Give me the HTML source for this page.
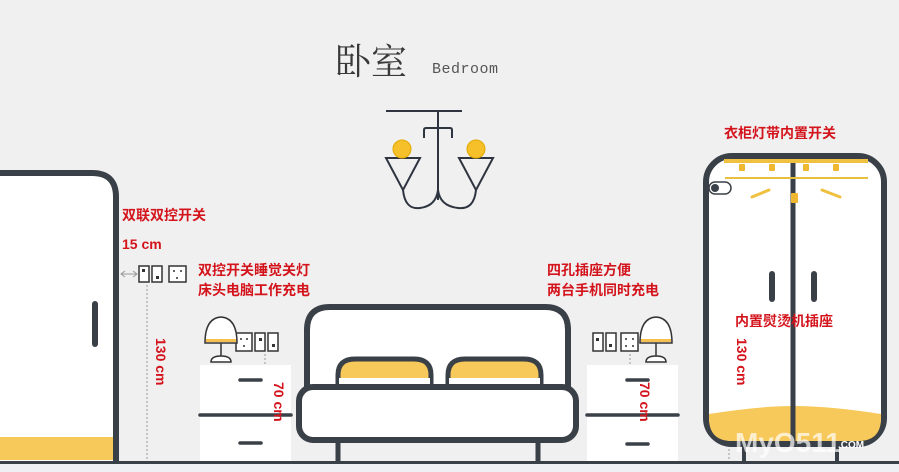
<!DOCTYPE html>
<html><head><meta charset="utf-8"><style>
body{margin:0;background:#f0f0f0;}
svg{display:block}
.r{fill:#d4141c;font-family:"Liberation Sans","Noto Sans CJK SC",sans-serif;font-weight:bold;font-size:14px}
</style></head><body>
<svg width="899" height="472" viewBox="0 0 899 472" xmlns="http://www.w3.org/2000/svg">
<rect width="899" height="472" fill="#f0f0f0"/>
<rect y="464" width="899" height="8" fill="#eef0f4"/>
<!-- title -->
<text x="335" y="74" font-family="'Noto Serif CJK SC','Noto Sans CJK SC',serif" font-size="36" fill="#3a3a3a">卧室</text>
<text x="432" y="73" font-family="'Liberation Mono',monospace" font-size="15" fill="#555" letter-spacing="0.5">Bedroom</text>
<!-- chandelier -->
<g stroke="#2f3540" stroke-width="2" fill="none">
<line x1="386" y1="111" x2="462" y2="111"/>
<line x1="438" y1="111" x2="438" y2="200"/>
<path d="M424 138 V130 Q424 128 426 128 H450 Q452 128 452 130 V138"/>
<path d="M386 158 H420 L403 190 Z"/>
<path d="M459 158 H493 L476 190 Z"/>
<path d="M403 190 Q405 210 420 208 Q436 206 438 190"/>
<path d="M476 190 Q474 210 458 208 Q440 206 438 190"/>
</g>
<circle cx="402" cy="149" r="9" fill="#f5c02a" stroke="#e0a800" stroke-width="1"/>
<circle cx="476" cy="149" r="9" fill="#f5c02a" stroke="#e0a800" stroke-width="1"/>
<!-- left wardrobe -->
<path d="M-10 462 V173 H92 Q116 173 116 197 V462" fill="#fff" stroke="#3a4048" stroke-width="6"/>
<rect x="0" y="437" width="113" height="23" fill="#f7c85a"/>
<line x1="95" y1="304" x2="95" y2="344" stroke="#3a4048" stroke-width="6" stroke-linecap="round"/>
<!-- switches -->
<g fill="#fff" stroke="#333" stroke-width="1.5">
<rect x="139" y="266" width="10" height="16"/><rect x="152" y="266" width="10" height="16"/><rect x="169" y="266" width="17" height="16"/>
<rect x="236" y="333" width="16" height="18"/><rect x="255" y="333" width="10" height="18"/><rect x="268" y="333" width="10" height="18"/>
<rect x="593" y="333" width="10" height="18"/><rect x="606" y="333" width="10" height="18"/><rect x="621" y="333" width="17" height="18"/>
<rect x="720" y="266" width="17" height="17"/>
</g>
<g fill="#333"><rect x="142" y="269" width="3" height="3"/><rect x="156" y="276" width="3" height="3"/><rect x="272" y="344" width="3" height="3"/><rect x="259" y="338" width="3" height="3"/><rect x="596" y="338" width="3" height="3"/><rect x="609" y="344" width="3" height="3"/>
<circle cx="174" cy="271" r="1"/><circle cx="181" cy="271" r="1"/><circle cx="177" cy="278" r="1"/>
<circle cx="241" cy="339" r="1"/><circle cx="247" cy="339" r="1"/><circle cx="244" cy="346" r="1"/>
<circle cx="626" cy="339" r="1"/><circle cx="633" cy="339" r="1"/><circle cx="626" cy="346" r="1"/><circle cx="633" cy="346" r="1"/>
<circle cx="725" cy="271" r="1"/><circle cx="732" cy="271" r="1"/><circle cx="728" cy="278" r="1"/></g>
<!-- dims -->
<g stroke="#999" stroke-width="1" fill="none">
<line x1="121" y1="274" x2="137" y2="274"/><path d="M125 271 L121 274 L125 277 M133 271 L137 274 L133 277"/>
<line x1="147" y1="285" x2="147" y2="461" stroke-dasharray="2,2"/>
<line x1="265" y1="354" x2="265" y2="461" stroke-dasharray="2,2"/>
<line x1="630" y1="354" x2="630" y2="461" stroke-dasharray="2,2"/>
<line x1="729" y1="285" x2="729" y2="461" stroke-dasharray="2,2"/>
</g>
<!-- nightstands -->
<rect x="200" y="365" width="91" height="97" fill="#fff"/>
<rect x="587" y="365" width="91" height="97" fill="#fff"/>
<g stroke="#3a4048" stroke-width="3.5" stroke-linecap="round">
<line x1="240" y1="380" x2="261" y2="380"/><line x1="200" y1="415" x2="291" y2="415"/><line x1="240" y1="443" x2="261" y2="443"/>
<line x1="627" y1="380" x2="648" y2="380"/><line x1="587" y1="415" x2="678" y2="415"/><line x1="627" y1="444" x2="648" y2="444"/>
</g>
<!-- lamps -->
<g stroke="#333" stroke-width="1.5" fill="#fff">
<path d="M205 343 Q205 318 221 317 Q237 318 237 343 Z"/><line x1="221" y1="343" x2="221" y2="356"/><path d="M211 362 Q211 356 221 356 Q231 356 231 362 Z"/>
<path d="M640 343 Q640 318 656 317 Q672 318 672 343 Z"/><line x1="656" y1="343" x2="656" y2="356"/><path d="M646 362 Q646 356 656 356 Q666 356 666 362 Z"/>
</g>
<rect x="206" y="339" width="30" height="3" fill="#f5c050"/><rect x="641" y="339" width="30" height="3" fill="#f5c050"/>
<!-- bed -->
<path d="M307 395 V330 Q307 307 330 307 H545 Q568 307 568 330 V395" fill="#fff" stroke="#3a4048" stroke-width="6"/>
<path d="M338 388 V375 Q338 359 355 359 H414 Q431 359 431 375 V388 Z" fill="#f7c85a" stroke="#3a4048" stroke-width="5"/>
<path d="M448 388 V375 Q448 359 465 359 H524 Q541 359 541 375 V388 Z" fill="#f7c85a" stroke="#3a4048" stroke-width="5"/>
<rect x="339" y="378" width="91" height="9" fill="#fff"/><rect x="449" y="378" width="91" height="9" fill="#fff"/>
<rect x="299" y="387" width="277" height="53" rx="14" fill="#fff" stroke="#3a4048" stroke-width="6"/>
<line x1="338" y1="442" x2="338" y2="462" stroke="#3a4048" stroke-width="5"/>
<line x1="538" y1="442" x2="538" y2="462" stroke="#3a4048" stroke-width="5"/>
<!-- right wardrobe -->
<rect x="706" y="156" width="178" height="288" rx="26" fill="#fff" stroke="#3a4048" stroke-width="6"/>
<path d="M709 414 Q760 406 793 406 Q830 406 881 414 V418 Q881 441 858 441 H732 Q709 441 709 418 Z" fill="#f7c85a"/>
<line x1="793" y1="158" x2="793" y2="442" stroke="#3a4048" stroke-width="5"/>
<line x1="724" y1="161" x2="868" y2="161" stroke="#f0c040" stroke-width="4"/>
<line x1="725" y1="178" x2="868" y2="178" stroke="#e8c040" stroke-width="2"/>
<g fill="#f0b830"><rect x="739" y="164" width="6" height="7" rx="1"/><rect x="769" y="164" width="6" height="7" rx="1"/><rect x="803" y="164" width="6" height="7" rx="1"/><rect x="833" y="164" width="6" height="7" rx="1"/><rect x="791" y="193" width="7" height="10" rx="1"/></g>
<g stroke="#f0c040" stroke-width="3" stroke-linecap="round"><line x1="752" y1="197" x2="769" y2="190"/><line x1="822" y1="190" x2="840" y2="197"/></g>
<rect x="709" y="182" width="22" height="12" rx="6" fill="#fff" stroke="#3a4048" stroke-width="1.5"/><circle cx="715" cy="188" r="4" fill="#3a4048"/>
<g stroke="#3a4048" stroke-width="6" stroke-linecap="round"><line x1="772" y1="274" x2="772" y2="299"/><line x1="814" y1="274" x2="814" y2="299"/></g>
<line x1="744" y1="444" x2="744" y2="462" stroke="#3a4048" stroke-width="4"/><line x1="837" y1="444" x2="837" y2="462" stroke="#3a4048" stroke-width="4"/>
<!-- floor -->
<rect x="0" y="461" width="899" height="3" fill="#3a4048"/>
<!-- labels -->
<text class="r" x="122" y="220">双联双控开关</text>
<text class="r" x="122" y="249">15 cm</text>
<text class="r" x="198" y="275">双控开关睡觉关灯</text>
<text class="r" x="198" y="295">床头电脑工作充电</text>
<text class="r" x="547" y="275">四孔插座方便</text>
<text class="r" x="547" y="295">两台手机同时充电</text>
<text class="r" x="724" y="138">衣柜灯带内置开关</text>
<text class="r" x="735" y="326">内置熨烫机插座</text>
<text class="r" transform="translate(156,338) rotate(90)">130 cm</text>
<text class="r" transform="translate(274,382) rotate(90)">70 cm</text>
<text class="r" transform="translate(640,382) rotate(90)">70 cm</text>
<text class="r" transform="translate(737,338) rotate(90)">130 cm</text>
<text x="735" y="452" font-family="'Liberation Sans',sans-serif" font-weight="bold" font-size="28" fill="#fff" fill-opacity="0.7">MyO511</text>
<text x="838" y="448" font-family="'Liberation Sans',sans-serif" font-weight="bold" font-size="10" fill="#fff">.COM</text>
</svg>
</body></html>
